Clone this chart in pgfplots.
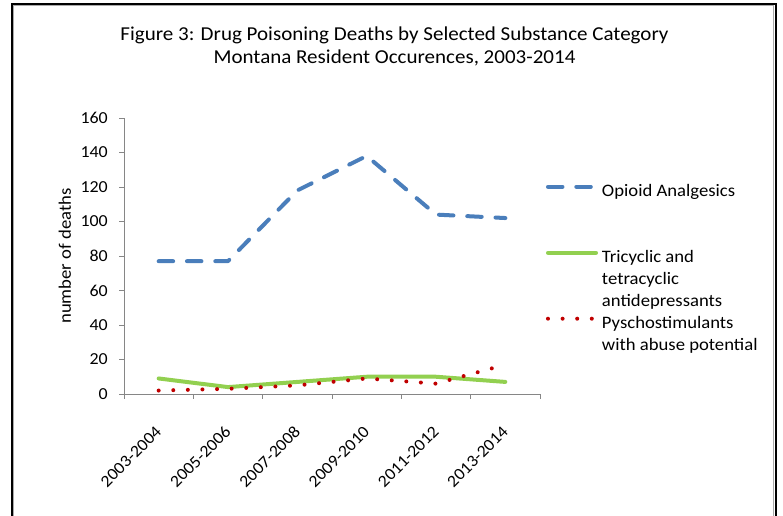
\documentclass[border=0pt]{standalone}
\usepackage{fontspec}
\setmainfont{Carlito}[FakeStretch=1.067]
\usepackage{pgfplots}
\pgfplotsset{compat=1.18}

\definecolor{opioid}{HTML}{4A7EBB}
\definecolor{tricyc}{HTML}{92D050}
\definecolor{psycho}{HTML}{C00000}
\definecolor{axisgray}{HTML}{868686}

\newcommand\tickfont{\fontsize{16.8bp}{19bp}\selectfont}
\newcommand\labfont{\fontsize{17.5bp}{20bp}\selectfont}
\newcommand\legfont{\fontsize{17.5bp}{22bp}\selectfont}
\newcommand\titlefont{\fontsize{19.7bp}{23bp}\selectfont}

% legend sample: a horizontal stroke 48bp long, 5.3bp above the baseline
\pgfplotsset{legline/.style={legend image code/.code={%
  \path (0bp,0bp); \draw[##1] (2bp,5.3bp) -- (50bp,5.3bp);}}}

\begin{document}
\begin{tikzpicture}[x=1bp,y=1bp]
\useasboundingbox (0,0) rectangle (783,516);
% chart frame: black edge with a grey inner rim, open at the bottom
\draw[axisgray!70, line width=1bp] (13.5,0) -- (13.5,510.5) -- (773.5,510.5) -- (773.5,0);
\draw[black, line width=2bp] (12,0) -- (12,512) -- (776,512) -- (776,0);
% title
\node[anchor=base, font=\titlefont] at (394.5,475) {Figure 3: Drug Poisoning Deaths by Selected Substance Category};
\node[anchor=base, font=\titlefont] at (394.5,452) {Montana Resident Occurences, 2003-2014};

\begin{axis}[
  at={(124bp,122bp)}, anchor=south west,
  scale only axis, width=416bp, height=276bp,
  xmin=-0.5, xmax=5.5, ymin=0, ymax=160,
  axis x line*=bottom, axis y line*=left,
  axis line style={draw=axisgray, line width=0.8bp, -},
  tick align=outside,
  major tick length=5bp, minor tick length=5bp,
  tick style={draw=axisgray, line width=0.8bp},
  ytick={0,20,...,160},
  xtick={0,...,5},
  xticklabels={2003-2004,2005-2006,2007-2008,2009-2010,2011-2012,2013-2014},
  major x tick style={draw=none},
  minor xtick={-0.5,0.5,...,5.5},
  /pgf/number format/assume math mode=true,
  yticklabel style={font=\tickfont, inner sep=0pt, xshift=-11bp},
  xticklabel style={font=\tickfont, xshift=0bp, yshift=-30bp, rotate=45, anchor=east, inner sep=0pt},
  ylabel={number of deaths},
  every axis y label/.style={at={(axis description cs:-0.142,0.5)}, rotate=90, anchor=center, font=\labfont},
  clip=false,
  legend style={at={(axis description cs:1.0096,0.7717)}, anchor=north west,
    draw=none, fill=none, inner sep=0pt, outer sep=0pt,
    row sep=0pt, column sep=4bp,
    font=\legfont,
    nodes={inner sep=0pt, text height=15bp, text depth=7bp},
    cells={anchor=base west}},
  legend cell align=left,
]
\addplot[opioid, line width=4bp, line cap=round, line join=round,
  dash pattern=on 14.5bp off 13.8bp, legline]
  coordinates {(0,77) (1,77) (2,118) (3,138) (4,104) (5,102)};
\addlegendentry{Opioid Analgesics}
\addlegendimage{empty legend}\addlegendentry{}
\addlegendimage{empty legend}\addlegendentry{}
\addplot[tricyc, line width=4bp, line cap=round, line join=round, legline]
  coordinates {(0,9) (1,4) (2,7) (3,10) (4,10) (5,7)};
\addlegendentry{Tricyclic and}
\addlegendimage{empty legend}\addlegendentry{tetracyclic}
\addlegendimage{empty legend}\addlegendentry{antidepressants}
\addplot[psycho, line width=4bp, line cap=round, line join=round,
  dash pattern=on 0bp off 14.6bp, legline]
  coordinates {(0,2) (1,3) (2,5) (3,9) (4,6) (5,17)};
\addlegendentry{Pyschostimulants}
\addlegendimage{empty legend}\addlegendentry{with abuse potential}
\end{axis}
\end{tikzpicture}
\end{document}
